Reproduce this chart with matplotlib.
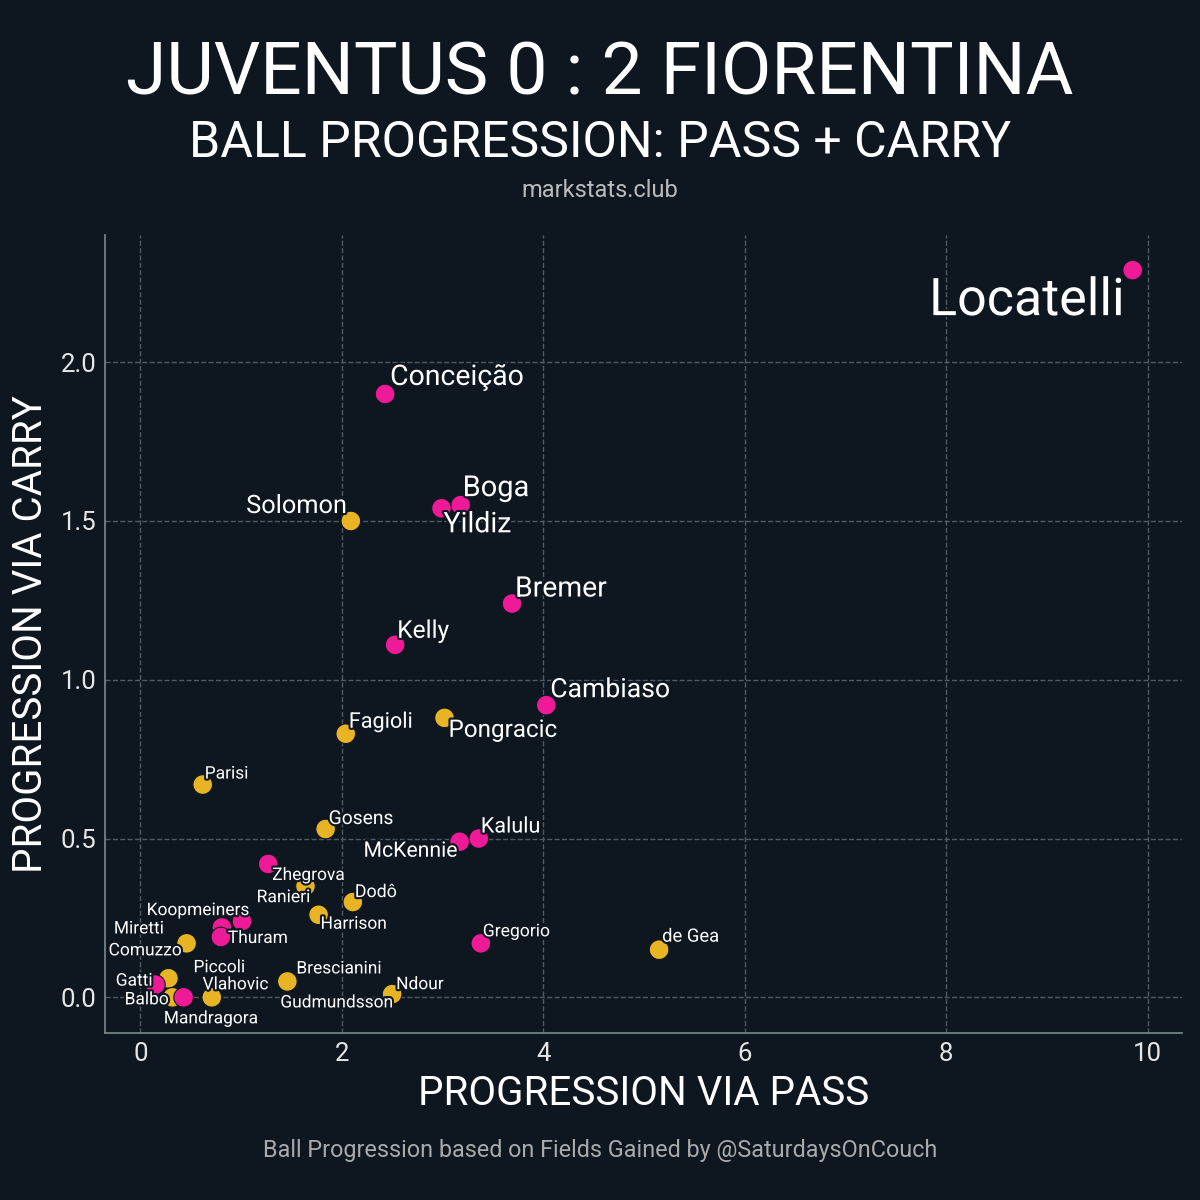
import numpy as np
import matplotlib
matplotlib.use('Agg')
import matplotlib.pyplot as plt
import matplotlib.patheffects as pe

# Data
players = ['Locatelli', 'Conceição', 'Boga', 'Yildiz', 'Solomon', 'Bremer', 'Kelly',
           'Cambiaso', 'Pongracic', 'Fagioli', 'Parisi', 'Gosens', 'Kalulu', 'McKennie',
           'Zhegrova', 'Ranieri', 'Dodô', 'Harrison', 'Koopmeiners', 'Miretti', 'Thuram',
           'Comuzzo', 'Piccoli', 'Gatti', 'Balbo', 'Vlahovic', 'Mandragora', 'Brescianini',
           'Gudmundsson', 'Ndour', 'Gregorio', 'de Gea']
team = ['JUV', 'JUV', 'JUV', 'JUV', 'FIO', 'JUV', 'JUV',
        'JUV', 'FIO', 'FIO', 'FIO', 'FIO', 'JUV', 'JUV',
        'JUV', 'FIO', 'FIO', 'FIO', 'JUV', 'JUV', 'JUV',
        'FIO', 'FIO', 'JUV', 'FIO', 'JUV', 'FIO', 'FIO',
        'FIO', 'FIO', 'JUV', 'FIO']
pass_prog = [9.85, 2.43, 3.18, 2.99, 2.09, 3.69, 2.53,
             4.03, 3.02, 2.04, 0.62, 1.84, 3.36, 3.17,
             1.27, 1.64, 2.11, 1.77, 1.01, 0.81, 0.80,
             0.46, 0.28, 0.15, 0.32, 0.43, 0.71, 1.46,
             1.46, 2.50, 3.38, 5.15]
carry_prog = [2.29, 1.90, 1.55, 1.54, 1.50, 1.24, 1.11,
              0.92, 0.88, 0.83, 0.67, 0.53, 0.50, 0.49,
              0.42, 0.35, 0.30, 0.26, 0.24, 0.22, 0.19,
              0.17, 0.06, 0.04, 0.00, 0.00, 0.00, 0.05,
              0.05, 0.01, 0.17, 0.15]

# label placement (pixel offset from point, horizontal alignment)
label_pos = {
    'Locatelli': (-8, -45, 'right'), 'Conceição': (5, 9, 'left'), 'Boga': (2, 9, 'left'),
    'Yildiz': (2, -24, 'left'), 'Solomon': (-4, 8, 'right'), 'Bremer': (3, 7, 'left'),
    'Kelly': (2, 7, 'left'), 'Cambiaso': (4, 8, 'left'), 'Pongracic': (4, -19, 'left'),
    'Fagioli': (3, 6, 'left'), 'Parisi': (2, 6, 'left'), 'Gosens': (3, 5, 'left'),
    'Kalulu': (2, 6, 'left'), 'McKennie': (-2, -15, 'right'), 'Zhegrova': (4, -16, 'left'),
    'Ranieri': (5, -16, 'right'), 'Dodô': (2, 5, 'left'), 'Harrison': (2, -14, 'left'),
    'Koopmeiners': (7, 6, 'right'), 'Miretti': (-58, -6, 'right'), 'Thuram': (7, -6, 'left'),
    'Comuzzo': (-5, -12, 'right'), 'Piccoli': (25, 6, 'left'), 'Gatti': (-3, -1, 'right'),
    'Balbo': (-4, -7, 'right'), 'Vlahovic': (19, 8, 'left'), 'Mandragora': (-48, -26, 'left'),
    'Brescianini': (9, 8, 'left'), 'Gudmundsson': (-7, -26, 'left'), 'Ndour': (4, 5, 'left'),
    'Gregorio': (2, 7, 'left'), 'de Gea': (3, 8, 'left'),
}

bg = '#0e1720'
colors = {'JUV': '#ee1a98', 'FIO': '#e8b424'}
plt.rcParams['font.family'] = ['Roboto', 'DejaVu Sans']

fig = plt.figure(figsize=(12, 12), dpi=100, facecolor=bg)
ax = fig.add_axes([0.0875, 0.139, 0.8975, 0.665])
ax.set_facecolor(bg)

x = np.array(pass_prog)
y = np.array(carry_prog)
ax.scatter(x, y, s=200, c=[colors[t] for t in team], edgecolors=bg, linewidths=0.8, zorder=3)

# label size grows with the product of both progressions
stroke = [pe.withStroke(linewidth=3, foreground=bg)]
for name, px, py in zip(players, x, y):
    dx, dy, ha = label_pos[name]
    s = np.sqrt(px * py)
    fs = max(12.5, 8.7 + 5 * s + 0.22 * s ** 2)
    ax.annotate(name, (px, py), xytext=(dx, dy), textcoords='offset pixels',
                ha=ha, va='baseline', fontsize=fs, color='white',
                path_effects=stroke, zorder=4)

ax.set_xlim(-0.35, 10.34)
ax.set_ylim(-0.113, 2.40)
ax.set_xticks([0, 2, 4, 6, 8, 10])
ax.set_yticks([0.0, 0.5, 1.0, 1.5, 2.0])
ax.set_yticklabels(['0.0', '0.5', '1.0', '1.5', '2.0'])
ax.tick_params(length=0, labelsize=18.5, colors='#e6e6e6', pad=6)
ax.grid(True, linestyle='--', color='#4f5a63', linewidth=1)
ax.set_axisbelow(True)
for side in ['top', 'right']:
    ax.spines[side].set_visible(False)
for side in ['left', 'bottom']:
    ax.spines[side].set_color('#7a8c88')
    ax.spines[side].set_linewidth(1.2)

ax.set_xlabel('PROGRESSION VIA PASS', fontsize=29, color='white', labelpad=6)
ax.set_ylabel('PROGRESSION VIA CARRY', fontsize=29, color='white', labelpad=8)

fig.text(0.5, 0.921, 'JUVENTUS 0 : 2 FIORENTINA', ha='center', va='baseline',
         fontsize=52.7, color='white')
fig.text(0.5, 0.869, 'BALL PROGRESSION: PASS + CARRY', ha='center', va='baseline',
         fontsize=36, color='white')
fig.text(0.5, 0.836, 'markstats.club', ha='center', va='baseline',
         fontsize=17, color='#bbbbbb')
fig.text(0.5, 0.036, 'Ball Progression based on Fields Gained by @SaturdaysOnCouch',
         ha='center', va='baseline', fontsize=16.8, color='#aaaaaa')

fig.savefig('out.png', dpi=100, facecolor=bg)
